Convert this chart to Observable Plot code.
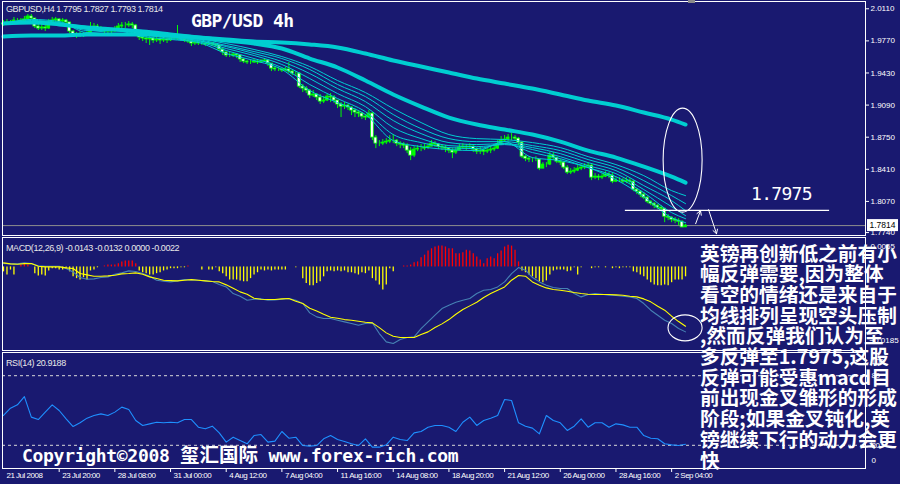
<!DOCTYPE html>
<html>
<head>
<meta charset="utf-8">
<script src="https://cdn.jsdelivr.net/npm/d3@7"></script>
<script src="https://cdn.jsdelivr.net/npm/@observablehq/plot@0.6"></script>
<style>
  html, body { margin:0; padding:0; background:#191970; }
  #chart { position:relative; width:900px; height:484px; background:#191970; overflow:hidden; }
  #chart > svg { position:absolute; left:0; display:block; max-width:none; }
</style>
</head>
<body>
<div id="chart"></div>
<script>
// ---------------- DATA ----------------
// GBP/USD 4h candles: one entry per bar (bar index = position), open = previous close
const firstOpen = 1.9954;
const closes = [1.9944,1.9965,1.9954,1.9986,1.9986,1.9975,1.9997,2.0028,2.0007,1.9922,
 1.9901,1.9912,1.9901,1.9965,1.9986,1.9997,1.9975,1.9986,1.9965,1.9869,
 1.9838,1.9827,1.9838,1.9827,1.9848,1.9912,1.9922,1.9901,1.9880,1.9869,
 1.9880,1.9869,1.9891,1.9922,1.9933,1.9933,1.9944,1.9933,1.9848,1.9806,
 1.9795,1.9785,1.9795,1.9774,1.9785,1.9774,1.9785,1.9774,1.9795,1.9806,
 1.9795,1.9785,1.9774,1.9763,1.9742,1.9753,1.9742,1.9742,1.9732,1.9742,
 1.9732,1.9721,1.9679,1.9647,1.9615,1.9615,1.9626,1.9615,1.9573,1.9551,
 1.9541,1.9541,1.9551,1.9541,1.9551,1.9562,1.9530,1.9477,1.9467,1.9467,
 1.9456,1.9467,1.9445,1.9424,1.9424,1.9286,1.9265,1.9244,1.9191,1.9202,
 1.9170,1.9127,1.9138,1.9180,1.9170,1.9138,1.9096,1.9074,1.9085,1.9064,
 1.9032,1.9011,1.9000,1.8968,1.8958,1.9000,1.8746,1.8682,1.8682,1.8693,
 1.8703,1.8714,1.8714,1.8682,1.8672,1.8661,1.8608,1.8555,1.8619,1.8629,
 1.8629,1.8640,1.8650,1.8682,1.8672,1.8650,1.8640,1.8629,1.8608,1.8587,
 1.8608,1.8640,1.8650,1.8640,1.8650,1.8619,1.8597,1.8608,1.8597,1.8608,
 1.8619,1.8629,1.8672,1.8714,1.8725,1.8746,1.8746,1.8735,1.8693,1.8544,
 1.8523,1.8513,1.8513,1.8513,1.8417,1.8460,1.8460,1.8555,1.8534,1.8491,
 1.8481,1.8428,1.8375,1.8385,1.8396,1.8417,1.8428,1.8438,1.8449,1.8322,
 1.8332,1.8322,1.8332,1.8354,1.8343,1.8279,1.8290,1.8290,1.8279,1.8290,
 1.8279,1.8195,1.8173,1.8142,1.8110,1.8067,1.8046,1.8025,1.8004,1.7993,
 1.7908,1.7898,1.7877,1.7866,1.7855,1.7795,1.7814];
const highs = [1.9986,1.9997,1.9986,2.0018,2.0007,2.0007,2.0028,2.0050,2.0050,2.0007,
 1.9944,1.9944,1.9933,1.9997,2.0018,2.0018,2.0007,2.0007,1.9997,1.9965,
 1.9880,1.9859,1.9869,1.9859,1.9880,1.9965,1.9954,1.9944,1.9922,1.9901,
 1.9912,1.9901,1.9922,1.9954,1.9965,1.9965,1.9975,1.9965,1.9944,1.9848,
 1.9827,1.9816,1.9827,1.9806,1.9816,1.9806,1.9816,1.9806,1.9827,1.9838,
 1.9933,1.9816,1.9806,1.9795,1.9774,1.9774,1.9763,1.9763,1.9753,1.9763,
 1.9753,1.9742,1.9721,1.9689,1.9657,1.9647,1.9647,1.9636,1.9615,1.9583,
 1.9562,1.9562,1.9573,1.9562,1.9573,1.9583,1.9573,1.9520,1.9498,1.9488,
 1.9477,1.9488,1.9541,1.9456,1.9445,1.9435,1.9308,1.9286,1.9255,1.9244,
 1.9212,1.9202,1.9180,1.9202,1.9212,1.9191,1.9138,1.9117,1.9117,1.9096,
 1.9074,1.9053,1.9032,1.9011,1.8990,1.9032,1.9011,1.8767,1.8714,1.8725,
 1.8735,1.8767,1.8778,1.8725,1.8703,1.8693,1.8682,1.8640,1.8650,1.8661,
 1.8672,1.8672,1.8682,1.8714,1.8703,1.8682,1.8672,1.8661,1.8640,1.8629,
 1.8640,1.8672,1.8682,1.8672,1.8682,1.8661,1.8640,1.8640,1.8629,1.8640,
 1.8650,1.8661,1.8714,1.8756,1.8767,1.8778,1.8788,1.8767,1.8746,1.8703,
 1.8555,1.8544,1.8534,1.8544,1.8502,1.8481,1.8481,1.8587,1.8587,1.8534,
 1.8513,1.8491,1.8449,1.8417,1.8428,1.8449,1.8460,1.8470,1.8481,1.8460,
 1.8364,1.8354,1.8364,1.8385,1.8375,1.8364,1.8322,1.8322,1.8311,1.8322,
 1.8311,1.8290,1.8205,1.8184,1.8163,1.8120,1.8078,1.8057,1.8036,1.8025,
 1.7993,1.7930,1.7908,1.7898,1.7887,1.7866,1.7827];
const lows = [1.9922,1.9933,1.9933,1.9944,1.9954,1.9944,1.9965,1.9986,1.9986,1.9901,
 1.9880,1.9880,1.9869,1.9891,1.9954,1.9965,1.9954,1.9954,1.9944,1.9848,
 1.9806,1.9795,1.9806,1.9806,1.9816,1.9848,1.9891,1.9880,1.9859,1.9848,
 1.9848,1.9848,1.9859,1.9891,1.9901,1.9901,1.9912,1.9901,1.9816,1.9774,
 1.9763,1.9742,1.9721,1.9742,1.9753,1.9732,1.9753,1.9742,1.9763,1.9774,
 1.9774,1.9763,1.9753,1.9742,1.9710,1.9721,1.9721,1.9721,1.9710,1.9721,
 1.9710,1.9700,1.9657,1.9615,1.9594,1.9594,1.9594,1.9583,1.9541,1.9530,
 1.9520,1.9520,1.9530,1.9520,1.9530,1.9541,1.9498,1.9445,1.9445,1.9445,
 1.9435,1.9445,1.9424,1.9403,1.9392,1.9265,1.9223,1.9212,1.9159,1.9170,
 1.9138,1.9096,1.9106,1.9127,1.9117,1.9106,1.9053,1.8958,1.9043,1.9032,
 1.8979,1.8958,1.8958,1.8937,1.8926,1.8947,1.8714,1.8629,1.8650,1.8661,
 1.8672,1.8682,1.8682,1.8650,1.8629,1.8629,1.8576,1.8502,1.8534,1.8597,
 1.8597,1.8608,1.8619,1.8650,1.8640,1.8619,1.8608,1.8587,1.8576,1.8523,
 1.8566,1.8608,1.8619,1.8608,1.8619,1.8587,1.8566,1.8566,1.8555,1.8576,
 1.8576,1.8597,1.8619,1.8661,1.8693,1.8703,1.8714,1.8703,1.8661,1.8523,
 1.8491,1.8481,1.8481,1.8491,1.8396,1.8417,1.8428,1.8449,1.8502,1.8470,
 1.8449,1.8407,1.8354,1.8354,1.8364,1.8385,1.8396,1.8407,1.8417,1.8290,
 1.8301,1.8290,1.8301,1.8322,1.8311,1.8258,1.8269,1.8269,1.8258,1.8258,
 1.8248,1.8173,1.8142,1.8110,1.8089,1.8046,1.8025,1.7993,1.7983,1.7961,
 1.7845,1.7866,1.7845,1.7834,1.7813,1.7790,1.7793];

// moving-average ribbon, read every 8 bars
const maBars = [0,8,16,24,32,40,48,56,64,72,80,88,96,104,112,120,128,136,144,152,160,168,176,184,192,196];
const maSlow = [1.9816,1.9827,1.9827,1.9838,1.9838,1.9838,1.9827,1.9806,1.9785,1.9763,1.9753,1.9732,1.9700,1.9636,1.9562,1.9498,1.9435,1.9371,1.9318,1.9265,1.9202,1.9138,1.9085,1.9011,1.8937,1.8884];
const maMid  = [1.9954,1.9965,1.9944,1.9912,1.9891,1.9869,1.9838,1.9806,1.9774,1.9742,1.9689,1.9583,1.9488,1.9350,1.9202,1.9074,1.8958,1.8884,1.8831,1.8778,1.8703,1.8608,1.8534,1.8438,1.8332,1.8269];
const maT1 = [1.9954,1.9997,1.9975,1.9859,1.9880,1.9816,1.9785,1.9753,1.9636,1.9562,1.9467,1.9244,1.9117,1.8990,1.8714,1.8650,1.8619,1.8608,1.8703,1.8534,1.8502,1.8428,1.8301,1.8120,1.7898,1.7845];
const maT2 = [1.9954,1.9986,1.9965,1.9880,1.9880,1.9838,1.9795,1.9763,1.9668,1.9583,1.9488,1.9308,1.9159,1.9021,1.8778,1.8693,1.8640,1.8629,1.8682,1.8587,1.8523,1.8428,1.8332,1.8163,1.7951,1.7887];
const maT3 = [1.9954,1.9975,1.9954,1.9891,1.9880,1.9859,1.9806,1.9774,1.9689,1.9615,1.9520,1.9371,1.9212,1.9074,1.8852,1.8735,1.8661,1.8650,1.8672,1.8619,1.8544,1.8449,1.8364,1.8195,1.8014,1.7919];
const maT4 = [1.9954,1.9975,1.9954,1.9901,1.9891,1.9869,1.9816,1.9774,1.9710,1.9636,1.9551,1.9424,1.9265,1.9127,1.8926,1.8788,1.8693,1.8672,1.8682,1.8640,1.8576,1.8481,1.8396,1.8237,1.8078,1.7972];
const maT5 = [1.9954,1.9965,1.9954,1.9912,1.9891,1.9880,1.9827,1.9785,1.9721,1.9657,1.9583,1.9467,1.9308,1.9180,1.8990,1.8841,1.8735,1.8703,1.8703,1.8661,1.8608,1.8513,1.8428,1.8290,1.8131,1.8046];
const maT6 = [1.9954,1.9965,1.9954,1.9922,1.9901,1.9880,1.9838,1.9795,1.9742,1.9679,1.9604,1.9498,1.9350,1.9223,1.9053,1.8905,1.8778,1.8735,1.8725,1.8693,1.8640,1.8544,1.8460,1.8343,1.8184,1.8131];

// MACD panel (values in units of 0.0001); lines read every 2 bars, histogram every bar
const macdMain = [7.4,6.6,6.6,8.9,7.4,2.2,1.5,1.5,1.5,-3.7,
 -11.1,-23.6,-27.3,-26.6,-23.6,-22.1,-16.2,-13.3,-8.9,-10.3,
 -14.8,-20.7,-29.5,-31.7,-33.2,-31.0,-28.0,-28.8,-29.5,-31.0,
 -32.5,-39.1,-44.3,-59.0,-64.9,-73.8,-71.5,-70.8,-73.8,-73.0,
 -71.5,-70.1,-73.8,-81.1,-101.8,-110.6,-114.3,-114.3,-118.0,-121.7,
 -125.4,-129.1,-125.4,-123.9,-147.5,-165.9,-169.6,-160.8,-156.4,-154.9,
 -136.4,-121.7,-106.9,-92.2,-84.8,-78.2,-73.8,-70.1,-59.0,-51.6,
 -50.2,-44.3,-33.2,-14.8,-1.5,-7.4,-23.6,-33.2,-40.6,-45.7,
 -47.9,-47.9,-59.0,-66.4,-61.2,-59.0,-60.5,-62.7,-63.4,-64.9,
 -66.4,-70.1,-81.1,-95.9,-106.9,-118.0,-125.4,-136.4,-143.8];
const macdSignal = [8.9,6.6,5.9,7.3,7.3,1.5,0,0,0,-2.2,
 -3.7,-14.8,-17.7,-20.6,-20.6,-19.9,-18.4,-15.5,-14.8,-13.3,
 -16.2,-22.1,-25.8,-29.5,-30.3,-31.0,-29.5,-28.1,-29.5,-31.0,
 -32.5,-33.2,-39.8,-47.2,-55.3,-60.4,-69.3,-71.5,-72.3,-72.3,
 -70.8,-70.1,-75.9,-81.2,-91.4,-97.4,-104.7,-111.3,-113.5,-116.6,
 -118.0,-120.2,-122.4,-123.9,-134.3,-146.0,-153.4,-156.4,-156.4,-156.4,
 -149.7,-143.8,-134.3,-126.1,-116.6,-104.7,-94.4,-86.3,-78.1,-67.9,
 -59.0,-51.6,-44.3,-29.5,-19.2,-20.6,-33.2,-40.5,-46.5,-50.2,
 -51.6,-53.8,-56.8,-59.0,-60.4,-61.2,-61.2,-61.2,-62.0,-62.7,
 -64.9,-66.4,-70.8,-77.4,-87.0,-95.8,-109.1,-121.0,-131.2];
const macdHist = [-11,-18,-7,-18,0,4,7,4,0,-15,
 -20,-18,-20,-9,-4,-4,-7,-7,-4,-11,
 -22,-26,-29,-24,-29,-9,-7,-2,0,2,
 4,4,4,7,11,13,13,13,7,-9,
 -13,-15,-18,-18,-15,-13,-9,-7,-4,-4,
 -4,-2,-2,2,0,0,0,-7,0,-7,
 -7,-2,-11,-15,-22,-29,-29,-29,-31,-33,
 -33,-26,-18,-13,-7,-9,-7,-9,-7,-7,
 -7,-7,0,0,-2,0,-26,-37,-42,-42,
 -37,-33,-22,-11,-9,-11,-9,-11,-9,-13,
 -13,-15,-18,-13,-15,-9,-26,-31,-40,-51,
 -40,-4,-11,0,0,2,2,4,9,11,
 20,26,35,40,44,46,46,44,40,40,
 29,29,31,37,35,29,22,15,7,18,
 22,18,29,35,44,48,46,37,11,-9,
 -13,-18,-22,-26,-33,-35,-31,-18,-9,-7,
 -7,-7,-11,-9,-2,-18,-2,0,0,-4,
 -2,-2,0,-2,0,-4,-2,-4,-2,-2,
 -2,-11,-13,-18,-22,-29,-35,-40,-42,-42,
 -40,-42,-35,-29,-29,-29,-22];
const macdRange = [-185, 65];

// RSI(14), read every 2 bars
const rsi = [45.7,52.0,54.9,62.0,44.3,42.2,48.6,54.9,50.0,42.8,
 36.2,39.4,43.4,45.7,47.1,45.7,48.6,52.9,50.9,41.4,
 37.1,38.5,39.9,39.4,39.9,39.4,42.2,42.2,35.6,34.2,
 36.5,30.7,22.7,27.0,24.1,21.3,28.4,29.3,22.7,23.6,
 31.9,26.1,27.0,19.8,19.3,19.8,25.6,28.4,25.0,23.3,
 21.3,19.8,25.6,18.4,18.4,20.4,27.0,25.0,24.1,30.7,
 31.9,35.6,37.1,37.1,35.6,31.9,39.9,44.3,37.1,41.4,
 43.4,45.7,59.5,58.6,39.4,36.5,34.8,29.9,45.7,41.4,
 39.4,32.8,36.5,42.8,35.6,39.4,39.4,35.6,38.5,37.6,
 35.6,35.6,28.4,26.1,25.6,21.3,20.4,19.8,20.9];
const rsiLevels = [80, 20];

// axes
const tickBars = [0,16,32,48,64,80,96,112,128,144,160,176,192];
const tickLabels = ["21 Jul 2008","23 Jul 20:00","28 Jul 08:00","31 Jul 00:00","4 Aug 12:00","7 Aug 04:00",
  "11 Aug 16:00","14 Aug 08:00","18 Aug 20:00","21 Aug 12:00","26 Aug 00:00","28 Aug 16:00","2 Sep 04:00"];
const priceTicks = [2.0110,1.9770,1.9430,1.9090,1.8750,1.8410,1.8070,1.7740];
const priceRange = [1.7709, 2.0187];
const barRange = [-0.287, 247.71];

// texts
const headerMain = "GBPUSD,H4  1.7795 1.7827 1.7793 1.7814";
const headerMacd = "MACD(12,26,9) -0.0143 -0.0132 0.0000 -0.0022";
const headerRsi = "RSI(14) 20.9188";
const title = "GBP/USD 4h";
const targetLevel = 1.7975;
const targetLabel = "1.7975";
const commentLines = ["英镑再创新低之前有小","幅反弹需要,因为整体","看空的情绪还是来自于","均线排列呈现空头压制",
  ",然而反弹我们认为至","多反弹至1.7975,这股","反弹可能受惠macd目","前出现金叉雏形的形成",
  "阶段;如果金叉钝化,英","镑继续下行的动力会更","快"];
const copyright = ["Copyright©2008 ", "玺汇国际", " www.forex-rich.com"];

// hand-drawn annotations (bar index / price)
const levelSpan = [178.7, 237.4];
const arrows = [
  {x1: 198.9, y1: 1.7834, x2: 200.3, y2: 1.7972},
  {x1: 202.6, y1: 1.7983, x2: 204.9, y2: 1.7728}
];
const priceEllipse = {cx: 195.3, cy: 1.8502, rx: 5.6, ry: 0.0551};
const macdEllipse = {cx: 196.0, cy: -136, rx: 4.9, ry: 28.8};

// ---------------- BUILD ----------------
const BG = "#191970";
const CYAN = "#00ced1";
const LIME = "#00ff00";
const root = document.getElementById("chart");

const candles = closes.map((c, i) => {
  const open = i === 0 ? firstOpen : closes[i - 1];
  return {b: i, open, close: c, high: Math.max(highs[i], open, c), low: Math.min(lows[i], open, c)};
});
const lastClose = closes[closes.length - 1];
const thinSeries = [maT1, maT2, maT3, maT4, maT5, maT6].flatMap((arr, s) => arr.map((v, i) => ({s, b: maBars[i], v})));
const thickSeries = [maSlow, maMid].flatMap((arr, s) => arr.map((v, i) => ({s, b: maBars[i], v})));
const histData = macdHist.map((v, i) => ({b: i, v}));
const mainLine = macdMain.map((v, i) => ({b: i * 2, v}));
const sigLine = macdSignal.map((v, i) => ({b: i * 2, v}));
const rsiData = rsi.map((v, i) => ({b: i * 2, v}));

const baseStyle = {background: "transparent", color: "white", fontFamily: "Liberation Sans, Arial, sans-serif", fontSize: "8px", overflow: "visible"};

const mainPlot = Plot.plot({
  width: 900, height: 236, marginTop: 1, marginBottom: 1, marginLeft: 2, marginRight: 35,
  style: baseStyle,
  x: {domain: barRange, axis: null},
  y: {domain: priceRange, axis: "right", ticks: priceTicks, tickFormat: d3.format(".4f"), tickSize: 3, tickPadding: 2, label: null},
  marks: [
    Plot.ruleY([lastClose], {stroke: "#8c8c8c"}),
    Plot.ruleX(candles, {x: "b", y1: "low", y2: "high", stroke: LIME, strokeWidth: 1}),
    Plot.rect(candles, {x1: d => d.b - 0.42, x2: d => d.b + 0.42, y1: "open", y2: "close",
      fill: d => d.close < d.open ? "#ffffff" : LIME, stroke: LIME, strokeWidth: 0.8}),
    Plot.line(thinSeries, {x: "b", y: "v", z: "s", stroke: CYAN, strokeWidth: 1, curve: "monotone-x"}),
    Plot.line(thickSeries, {x: "b", y: "v", z: "s", stroke: CYAN, strokeWidth: 4, curve: "monotone-x"}),
    Plot.ruleY([targetLevel], {x1: levelSpan[0], x2: levelSpan[1], stroke: "white", strokeWidth: 1.2}),
    Plot.arrow(arrows, {x1: "x1", y1: "y1", x2: "x2", y2: "y2", stroke: "white", strokeWidth: 1, headLength: 7}),
    Plot.frame({stroke: "white"})
  ]
});
mainPlot.style.top = "0px";
root.appendChild(mainPlot);

const macdPlot = Plot.plot({
  width: 900, height: 115, marginTop: 1, marginBottom: 1, marginLeft: 2, marginRight: 35,
  style: baseStyle,
  x: {domain: barRange, axis: null},
  y: {domain: macdRange, axis: null},
  marks: [
    Plot.ruleX(histData.filter(d => d.v > 0), {x: "b", y1: 0, y2: "v", stroke: "#ff0000", strokeWidth: 1.3}),
    Plot.ruleX(histData.filter(d => d.v < 0), {x: "b", y1: 0, y2: "v", stroke: "#ffff00", strokeWidth: 1.3}),
    Plot.line(mainLine, {x: "b", y: "v", stroke: "#4682b4", strokeWidth: 1.1}),
    Plot.line(sigLine, {x: "b", y: "v", stroke: "#ffff00", strokeWidth: 1.1}),
    Plot.text([d3.format(".4f")(macdRange[1] / 1e4)], {text: d => d, frameAnchor: "top-right", dx: 5, dy: 6, textAnchor: "start", fill: "white"}),
    Plot.text([d3.format(".4f")(macdRange[0] / 1e4)], {text: d => d, frameAnchor: "bottom-right", dx: 4, dy: -8, textAnchor: "start", fill: "white"}),
    Plot.frame({stroke: "white"})
  ]
});
macdPlot.style.top = "236px";
root.appendChild(macdPlot);

const rsiPlot = Plot.plot({
  width: 900, height: 133, marginTop: 1, marginBottom: 16, marginLeft: 2, marginRight: 35,
  style: {...baseStyle, letterSpacing: "-0.5px"},
  x: {domain: barRange, axis: "bottom", ticks: tickBars.slice(1), tickFormat: () => "", tickSize: 4, label: null},
  y: {domain: [0, 100], axis: null},
  marks: [
    Plot.ruleY(rsiLevels, {stroke: "#d8d8d8", strokeDasharray: "3,3"}),
    Plot.line(rsiData, {x: "b", y: "v", stroke: "#1e90ff", strokeWidth: 1.1}),
    Plot.text(tickBars, {x: d => d, text: (d, i) => tickLabels[i], frameAnchor: "bottom", dy: 9, dx: 3, textAnchor: "start", fill: "white"}),
    Plot.text(["100"], {text: d => d, frameAnchor: "top-right", dx: 6, dy: 6, textAnchor: "start", fill: "white"}),
    Plot.text(rsiLevels, {y: d => d, text: d => String(d), frameAnchor: "right", dx: 6, textAnchor: "start", fill: "white"}),
    Plot.text(["0"], {text: d => d, frameAnchor: "bottom-right", dx: 6, dy: -6, textAnchor: "start", fill: "white"}),
    Plot.frame({stroke: "white"})
  ]
});
rsiPlot.style.top = "351px";
root.appendChild(rsiPlot);

// scale helpers
function sc(plot, name) {
  const s = plot.scale(name);
  if (s && typeof s.apply === "function") return v => s.apply(v);
  return d3.scaleLinear(s.domain, s.range);
}
const mx = sc(mainPlot, "x"), my = sc(mainPlot, "y");
const gx = sc(macdPlot, "x"), gy = sc(macdPlot, "y");

// ---------------- overlay (annotations & texts) ----------------
const ov = d3.create("svg").attr("width", 900).attr("height", 484)
  .style("position", "absolute").style("left", "0px").style("top", "0px").style("overflow", "visible");

// hand-drawn ellipses
ov.append("ellipse")
  .attr("cx", mx(priceEllipse.cx)).attr("cy", my(priceEllipse.cy))
  .attr("rx", mx(priceEllipse.cx + priceEllipse.rx) - mx(priceEllipse.cx))
  .attr("ry", my(priceEllipse.cy - priceEllipse.ry) - my(priceEllipse.cy))
  .attr("fill", "none").attr("stroke", "white").attr("stroke-width", 1.1);
ov.append("ellipse")
  .attr("cx", gx(macdEllipse.cx)).attr("cy", 236 + gy(macdEllipse.cy))
  .attr("rx", gx(macdEllipse.cx + macdEllipse.rx) - gx(macdEllipse.cx))
  .attr("ry", gy(macdEllipse.cy - macdEllipse.ry) - gy(macdEllipse.cy))
  .attr("fill", "none").attr("stroke", "white").attr("stroke-width", 1.1);

// current price box
const yLast = my(lastClose);
ov.append("rect").attr("x", 867).attr("y", yLast - 6).attr("width", 31).attr("height", 12).attr("fill", "white");
ov.append("text").attr("x", 882.5).attr("y", yLast + 3).attr("text-anchor", "middle")
  .attr("font-family", "Liberation Sans, Arial, sans-serif").attr("font-size", 8.5).attr("fill", "black").text(d3.format(".4f")(lastClose));

// chart shift marker
ov.append("rect").attr("x", 688).attr("y", 0).attr("width", 7).attr("height", 3).attr("fill", "#8a8a8a");

// panel headers
const hdr = (t, x, y) => ov.append("text").attr("x", x).attr("y", y)
  .attr("font-family", "Liberation Sans, Arial, sans-serif").attr("font-size", 9)
  .attr("letter-spacing", "-0.42").attr("fill", "#e8e8e8").text(t);
hdr(headerMain, 6, 12);
hdr(headerMacd, 6, 250.5);
hdr(headerRsi, 6, 366);

// title
ov.append("text").attr("x", 191).attr("y", 27)
  .attr("font-family", "DejaVu Sans Mono, monospace").attr("font-weight", "bold").attr("font-size", 18)
  .attr("letter-spacing", "-0.6").attr("fill", "white").text(title);

// target label
ov.append("text").attr("x", 751).attr("y", 200)
  .attr("font-family", "DejaVu Sans Mono, monospace").attr("font-size", 18)
  .attr("letter-spacing", "-0.7").attr("fill", "white").text(targetLabel);

// copyright
const cp = ov.append("text").attr("x", 22).attr("y", 462)
  .attr("font-family", "DejaVu Sans Mono, monospace").attr("font-weight", "bold").attr("font-size", 18)
  .attr("letter-spacing", "-0.3").attr("fill", "white");
cp.append("tspan").text(copyright[0]);
cp.append("tspan").attr("font-family", "Noto Sans CJK SC, sans-serif").attr("font-size", 19.5).attr("letter-spacing", "0").text(copyright[1]);
cp.append("tspan").text(copyright[2]);

// Chinese commentary
commentLines.forEach((t, i) => {
  ov.append("text").attr("x", 700).attr("y", 260.5 + 20.7 * i)
    .attr("font-family", "Noto Sans CJK SC, sans-serif").attr("font-weight", "bold").attr("font-size", 19.7)
    .attr("fill", "white").text(t);
});

root.appendChild(ov.node());
</script>
</body>
</html>
